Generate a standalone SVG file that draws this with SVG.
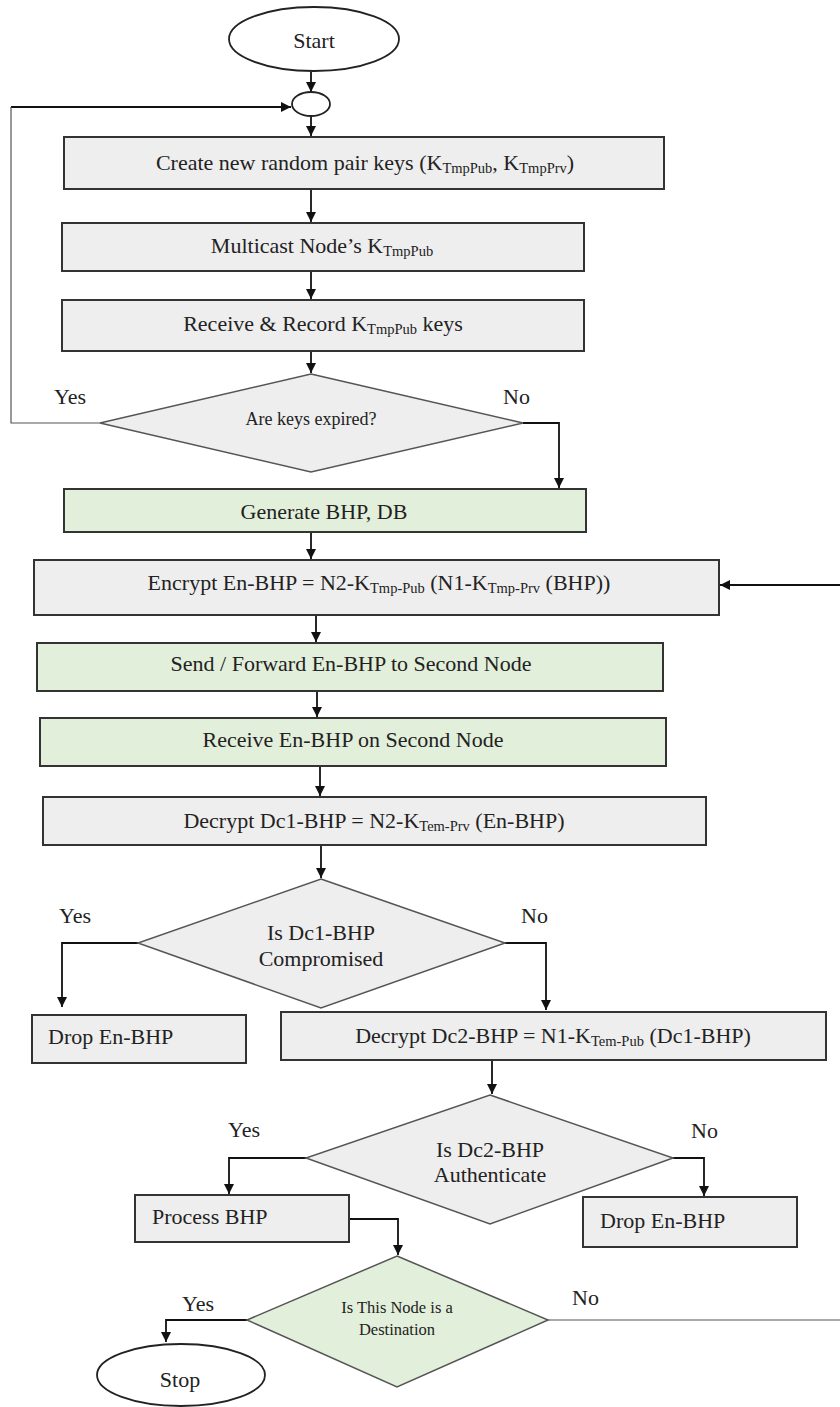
<svg xmlns="http://www.w3.org/2000/svg" width="840" height="1407" viewBox="0 0 840 1407">
<style>
  .box{fill:#eeeeee;stroke:#333;stroke-width:2}
  .gbox{fill:#e2efda;stroke:#333;stroke-width:2}
  .dia{fill:#eeeeee;stroke:#555;stroke-width:1.5}
  .gdia{fill:#e2efda;stroke:#555;stroke-width:1.5}
  .term{fill:#ffffff;stroke:#222;stroke-width:1.8}
  text{font-family:'Liberation Serif','DejaVu Serif',serif;fill:#222}
  .t{font-size:22px;text-anchor:middle}
  .tl{font-size:22px}
  .ts{font-size:18px;text-anchor:middle}
  .tss{font-size:16.5px;text-anchor:middle}
  .lbl{font-size:22px}
  .sub{font-size:14.5px}
  .c{fill:none;stroke:#111;stroke-width:1.8}
  .cg{fill:none;stroke:#555;stroke-width:1.2}
</style>
<defs>
  <marker id="ah" viewBox="0 0 10 10" refX="10" refY="5" markerWidth="10" markerHeight="10" markerUnits="userSpaceOnUse" orient="auto">
    <path d="M0,0 L10,5 L0,10 z" fill="#111"/>
  </marker>
</defs>

<g id="connectors">
  <path class="c" d="M311,72 V92" marker-end="url(#ah)"/>
  <path class="c" d="M311,116 V136" marker-end="url(#ah)"/>
  <path class="c" d="M11,107 H291" marker-end="url(#ah)"/>
  <path class="cg" d="M11,107 V423 H100"/>
  <path class="c" d="M311,189 V222" marker-end="url(#ah)"/>
  <path class="c" d="M311,271 V299" marker-end="url(#ah)"/>
  <path class="c" d="M311,351 V373" marker-end="url(#ah)"/>
  <path class="c" d="M523,423 H559 V488" marker-end="url(#ah)"/>
  <path class="c" d="M311,532 V559" marker-end="url(#ah)"/>
  <path class="c" d="M840,585 H720" marker-end="url(#ah)"/>
  <path class="c" d="M316,615 V642" marker-end="url(#ah)"/>
  <path class="c" d="M317,691 V717" marker-end="url(#ah)"/>
  <path class="c" d="M320,766 V796" marker-end="url(#ah)"/>
  <path class="c" d="M321,845 V878" marker-end="url(#ah)"/>
  <path class="c" d="M138,943 H62 V1007" marker-end="url(#ah)"/>
  <path class="c" d="M505,943 H546 V1010" marker-end="url(#ah)"/>
  <path class="c" d="M492,1060 V1094" marker-end="url(#ah)"/>
  <path class="c" d="M306,1158 H229 V1194" marker-end="url(#ah)"/>
  <path class="c" d="M673,1158 H704 V1196" marker-end="url(#ah)"/>
  <path class="c" d="M349,1219 H398 V1255" marker-end="url(#ah)"/>
  <path class="c" d="M247,1320 H166 V1342" marker-end="url(#ah)"/>
  <path class="cg" d="M548,1320 H840"/>
</g>

<g id="labels">
  <text class="lbl" x="54" y="404">Yes</text>
  <text class="lbl" x="503" y="404">No</text>
  <text class="lbl" x="59" y="923">Yes</text>
  <text class="lbl" x="521" y="923">No</text>
  <text class="lbl" x="228" y="1137">Yes</text>
  <text class="lbl" x="691" y="1138">No</text>
  <text class="lbl" x="182" y="1311">Yes</text>
  <text class="lbl" x="572" y="1305">No</text>
</g>

<g id="start">
  <ellipse class="term" cx="314" cy="39" rx="85" ry="32"/>
  <text class="t" x="314" y="48">Start</text>
</g>
<g id="junction">
  <ellipse class="term" cx="311" cy="104" rx="19" ry="12"/>
</g>
<g id="create-keys">
  <rect class="box" x="64" y="137" width="600" height="52"/>
  <text class="t" x="365" y="170">Create new random pair keys (K<tspan class="sub" dy="3">TmpPub</tspan><tspan dy="-3">, K</tspan><tspan class="sub" dy="3">TmpPrv</tspan><tspan dy="-3">)</tspan></text>
</g>
<g id="multicast">
  <rect class="box" x="62" y="223" width="522" height="48"/>
  <text class="t" x="322" y="253">Multicast Node’s K<tspan class="sub" dy="3">TmpPub</tspan></text>
</g>
<g id="receive-record">
  <rect class="box" x="62" y="300" width="522" height="51"/>
  <text class="t" x="323" y="331">Receive &amp; Record K<tspan class="sub" dy="3">TmpPub</tspan><tspan dy="-3"> keys</tspan></text>
</g>
<g id="keys-expired">
  <polygon class="dia" points="311,374 523,423 311,472 100,423"/>
  <text class="ts" x="311" y="425">Are keys expired?</text>
</g>
<g id="generate">
  <rect class="gbox" x="64" y="489" width="522" height="43"/>
  <text class="t" x="324" y="519">Generate BHP, DB</text>
</g>
<g id="encrypt">
  <rect class="box" x="34" y="560" width="685" height="55"/>
  <text class="t" x="379" y="590">Encrypt En-BHP = N2-K<tspan class="sub" dy="3">Tmp-Pub</tspan><tspan dy="-3"> (N1-K</tspan><tspan class="sub" dy="3">Tmp-Prv</tspan><tspan dy="-3"> (BHP))</tspan></text>
</g>
<g id="send">
  <rect class="gbox" x="37" y="643" width="626" height="48"/>
  <text class="t" x="351" y="671">Send / Forward En-BHP to Second Node</text>
</g>
<g id="receive-en">
  <rect class="gbox" x="40" y="718" width="626" height="48"/>
  <text class="t" x="353" y="747">Receive En-BHP on Second Node</text>
</g>
<g id="decrypt1">
  <rect class="box" x="43" y="797" width="663" height="48"/>
  <text class="t" x="374" y="828">Decrypt Dc1-BHP = N2-K<tspan class="sub" dy="3">Tem-Prv</tspan><tspan dy="-3"> (En-BHP)</tspan></text>
</g>
<g id="compromised">
  <polygon class="dia" points="321,879 505,943 321,1008 138,943"/>
  <text class="t" x="321" y="940">Is Dc1-BHP</text>
  <text class="t" x="321" y="966">Compromised</text>
</g>
<g id="drop1">
  <rect class="box" x="32" y="1015" width="214" height="48"/>
  <text class="tl" x="48" y="1044">Drop En-BHP</text>
</g>
<g id="decrypt2">
  <rect class="box" x="281" y="1012" width="545" height="48"/>
  <text class="t" x="553" y="1043">Decrypt Dc2-BHP = N1-K<tspan class="sub" dy="3">Tem-Pub</tspan><tspan dy="-3"> (Dc1-BHP)</tspan></text>
</g>
<g id="authenticate">
  <polygon class="dia" points="490,1095 673,1158 490,1224 306,1158"/>
  <text class="t" x="490" y="1157">Is Dc2-BHP</text>
  <text class="t" x="490" y="1182">Authenticate</text>
</g>
<g id="process">
  <rect class="box" x="135" y="1195" width="214" height="47"/>
  <text class="tl" x="152" y="1224">Process BHP</text>
</g>
<g id="drop2">
  <rect class="box" x="583" y="1197" width="214" height="50"/>
  <text class="tl" x="600" y="1228">Drop En-BHP</text>
</g>
<g id="destination">
  <polygon class="gdia" points="397,1256 548,1320 397,1387 247,1320"/>
  <text class="tss" x="397" y="1313">Is This Node is a</text>
  <text class="tss" x="397" y="1335">Destination</text>
</g>
<g id="stop">
  <ellipse class="term" cx="181" cy="1375" rx="84" ry="31"/>
  <text class="t" x="180" y="1387">Stop</text>
</g>
</svg>
